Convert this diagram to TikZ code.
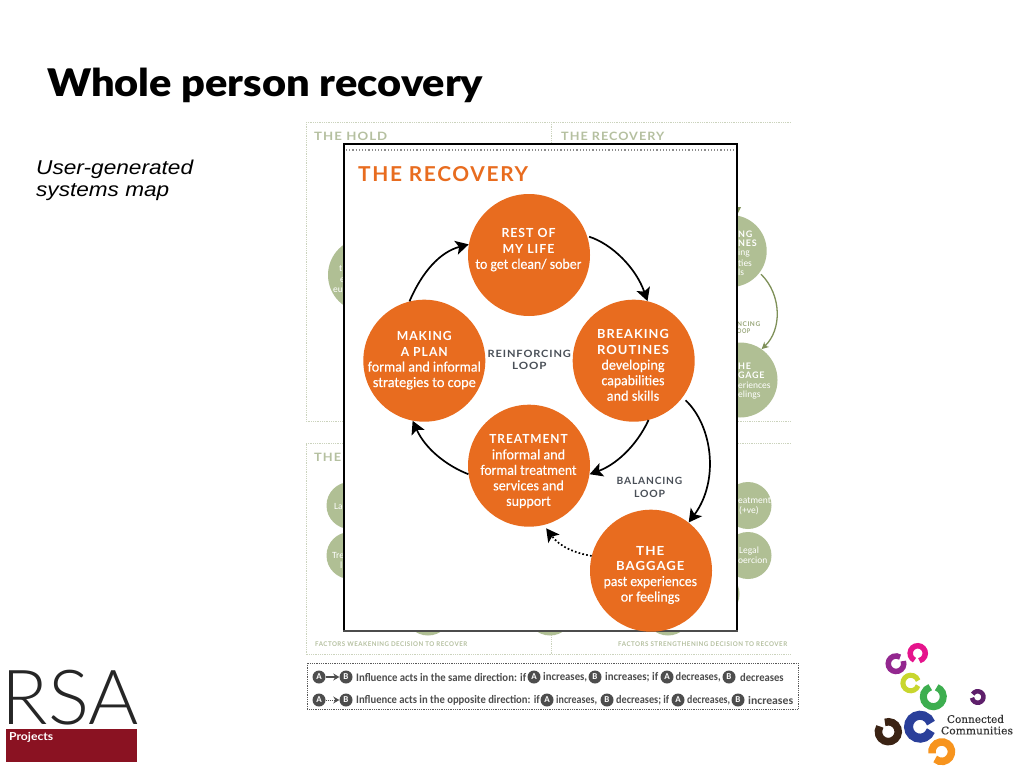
\documentclass[tikz,border=0pt]{standalone}
\usepackage{fontspec}
\usepackage{graphicx}
\usetikzlibrary{arrows.meta}
\setmainfont{Carlito}
\newfontfamily\bodyf[FakeBold=0.3]{Carlito}
\newfontfamily\capsf[LetterSpace=8]{Lato}
\newfontfamily\titlef{Lato Black}
\newfontfamily\rsaf{Lato Light}
\newfontfamily\projf{Lato}
\newfontfamily\arialf{Liberation Sans}
\newfontfamily\slabf[FakeBold=0.25]{DejaVu Serif}
\newcommand{\fitw}[2]{\resizebox{#1pt}{\height}{#2}}
\definecolor{recorange}{HTML}{E86C1F}
\definecolor{ghost}{HTML}{B0BF94}
\definecolor{ghosttext}{HTML}{B5C0A0}
\definecolor{ghostarrow}{HTML}{7E9058}
\definecolor{looptext}{HTML}{4A5058}
\definecolor{legendgray}{HTML}{4D4D4D}
\definecolor{rsared}{HTML}{8A1222}
\definecolor{ccmagenta}{HTML}{E5148C}
\definecolor{ccpurple}{HTML}{93278F}
\definecolor{ccyellow}{HTML}{C8D62E}
\definecolor{ccgreen}{HTML}{3DAE4F}
\definecolor{ccplum}{HTML}{5E1F6B}
\definecolor{ccblue}{HTML}{2A3F9A}
\definecolor{ccbrown}{HTML}{3B2314}
\definecolor{ccorange}{HTML}{F7941E}
\tikzset{
 recstage/.style={circle,fill=recorange,draw=none,minimum size=122pt,inner sep=0pt},
 ghoststage/.style={circle,fill=ghost,draw=none,inner sep=0pt},
 stagetext/.style={text=white,align=center,inner sep=0pt,font=\bodyf\fontsize{14.5}{15.5}\selectfont},
 ghosttxt/.style={text=white,inner sep=0pt,font=\fontsize{9.5}{11}\selectfont},
 looplabel/.style={text=looptext,align=center,inner sep=0pt,font=\capsf\bfseries\fontsize{10}{12.5}\selectfont},
 panelhead/.style={inner sep=0pt,anchor=west,font=\capsf\bfseries\fontsize{15}{15}\selectfont},
 factor/.style={text=ghosttext,inner sep=0pt,anchor=west,font=\capsf\bfseries\fontsize{6.5}{7}\selectfont},
 loopline/.style={line width=1.7pt,black,-{Stealth[length=13pt,width=14pt,inset=3pt]}},
 dotframe/.style={densely dotted,line width=.8pt,draw=ghosttext!70},
 legendline/.style={densely dotted,line width=.8pt,draw=black!65},
 lgtxt/.style={text=legendgray,inner sep=0pt,anchor=west,font=\bfseries\fontsize{11.5}{12}\selectfont},
 lgA/.style={circle,fill=legendgray,text=white,inner sep=0pt,minimum size=13pt,font=\bfseries\fontsize{9}{9}\selectfont},
}
\newcommand{\ringmark}[6]{% cx cy outer-radius thickness colour start
 \draw[line width=#4pt,color=#5] (#1,#2) ++(#6:{#3-#4/2}) arc (#6:{#6+322}:{#3-#4/2});}
\newcommand{\lgdisc}[3]{\node[lgA] (#1) at (#2) {#3};}
\begin{document}
\begin{tikzpicture}[x=1pt,y=-1pt]
\useasboundingbox (0,0) rectangle (1024,768);
\fill[white] (0,0) rectangle (1024,768);
% heading
\node[inner sep=0pt,anchor=base west] (title) at (47,96) {\titlef\fontsize{38}{38}\selectfont\fitw{436}{Whole person recovery}};
\node[inner sep=0pt,anchor=base west,font=\arialf\itshape\fontsize{20}{22}\selectfont] (sub) at (36,174) {\fitw{157}{User-generated}};
\node[inner sep=0pt,anchor=base west,font=\arialf\itshape\fontsize{20}{22}\selectfont] (sub2) at (36,196.7) {\fitw{133}{systems map}};
% background map frames
\draw[dotframe] (306,122) -- (791,122);
\draw[dotframe] (306,122) -- (306,421) -- (791,421);
\draw[dotframe] (551,122) -- (551,143);
\draw[dotframe] (306,443.5) -- (791,443.5);
\draw[dotframe] (306,443.5) -- (306,654.5) -- (791,654.5);
\draw[dotframe] (551,630) -- (551,654.5);
\node[panelhead,text=ghosttext,font=\capsf\bfseries\fontsize{11.5}{12}\selectfont] (hold) at (314,136.5) {\fitw{73}{THE HOLD}};
\node[panelhead,text=ghosttext,font=\capsf\bfseries\fontsize{11.5}{12}\selectfont] (bgrec) at (561,136.5) {\fitw{103}{THE RECOVERY}};
\node[panelhead,text=ghosttext,font=\capsf\bfseries\fontsize{11.5}{12}\selectfont] (bgthe) at (314,457.5) {\fitw{27}{THE}};
\node[factor] (fw) at (315,644.5) {\fitw{152}{FACTORS WEAKENING DECISION TO RECOVER}};
\node[factor] (fs) at (618,644.5) {\fitw{169}{FACTORS STRENGTHENING DECISION TO RECOVER}};
% ghost stages
\node[ghoststage,minimum size=74pt] (g1) at (365,275) {};
\node[ghosttxt,anchor=west] (g1a) at (339,269) {t};
\node[ghosttxt,anchor=west] (g1b) at (340,280) {e};
\node[ghosttxt,anchor=west] (g1c) at (333,290) {eu};
\node[ghoststage,minimum size=72pt] (g2) at (730.7,251) {};
\node[ghoststage,minimum size=75pt] (g3) at (740,380) {};
\draw[ghostarrow,line width=1.3pt,-{Stealth[length=7pt,width=7pt]},shorten <=2pt] (g2.-37) .. controls (782,295) and (782,330) .. (g3.55);
\node[ghoststage,minimum size=47pt] (g4) at (350,505.5) {};
\node[ghoststage,minimum size=47pt] (g5) at (350,555.5) {};
\node[ghoststage,minimum size=47pt] (g6) at (748,505.5) {};
\node[ghoststage,minimum size=47pt] (g7) at (748,555.5) {};
\node[ghoststage,minimum size=47pt] (g8) at (716,594) {};
\node[ghoststage,minimum size=47pt] (g9) at (428,612) {};
\node[ghoststage,minimum size=47pt] (g10) at (550,612) {};
\node[ghoststage,minimum size=47pt] (g11) at (668,612) {};
\fill[ghostarrow] (733,207) -- (741,207) -- (737,215) -- cycle;
\node[ghosttxt,anchor=west,font=\capsf\bfseries\fontsize{9}{10}\selectfont] (g2a) at (738,234) {NG};
\node[ghosttxt,anchor=west,font=\capsf\bfseries\fontsize{9}{10}\selectfont] (g2b) at (738,243) {NES};
\node[ghosttxt,anchor=west] (g2c) at (738,253) {ing};
\node[ghosttxt,anchor=west] (g2d) at (738,263) {ties};
\node[ghosttxt,anchor=west] (g2e) at (738,272) {ls};
\node[ghosttxt,anchor=west,font=\capsf\bfseries\fontsize{9}{10}\selectfont] (g3a) at (738,366) {HE};
\node[ghosttxt,anchor=west,font=\capsf\bfseries\fontsize{9}{10}\selectfont] (g3b) at (738,375) {GAGE};
\node[ghosttxt,anchor=west] (g3c) at (738,385) {eriences};
\node[ghosttxt,anchor=west] (g3d) at (738,395) {elings};
\node[factor,text=ghostarrow!80] (g3e) at (737,324) {\fitw{23}{NCING}};
\node[factor,text=ghostarrow!80] (g3f) at (737,331) {\fitw{13}{OOP}};
\node[ghosttxt,anchor=west] (g4a) at (334,506) {La};
\node[ghosttxt,anchor=west] (g5a) at (332,555) {Tre};
\node[ghosttxt,anchor=west] (g5b) at (340,565) {l};
\node[ghosttxt,anchor=west] (g6a) at (738,501) {eatment};
\node[ghosttxt,anchor=west] (g6b) at (739,511) {(+ve)};
\node[ghosttxt,anchor=west] (g7a) at (739,551) {Legal};
\node[ghosttxt,anchor=west] (g7b) at (738,560) {oercion};
% main panel
\draw[fill=white,draw=none] (344,144) rectangle (737,631);
\draw[black,line width=1.4pt] (344,631) -- (344,144) -- (737,144) -- (737,631);
\draw[black!70,line width=2pt] (343,631) -- (738,631);
\draw[dash pattern=on 1.2pt off 2pt,line width=1.2pt,black!45] (346,150) -- (736,150);
\node[panelhead,text=recorange] (head) at (358,174) {\fitw{170}{\fontsize{20.5}{21}\selectfont THE RECOVERY}};
% stages
\node[recstage] (rest) at (529,255) {};
\node[recstage] (breaking) at (633.7,360.7) {};
\node[recstage] (making) at (424.3,360.7) {};
\node[recstage] (treatment) at (529,465.7) {};
\node[recstage] (baggage) at (651,570.7) {};
\node[stagetext] (resttxt) at (528.5,250) {\fitw{54}{\capsf\bfseries\fontsize{12.5}{13}\selectfont REST OF}\\\fitw{52}{\capsf\bfseries\fontsize{12.5}{13}\selectfont MY LIFE}\\\fitw{106}{to get clean/ sober}};
\node[stagetext] (breakingtxt) at (633,365.2) {\fitw{71.6}{\capsf\bfseries\fontsize{12.5}{13}\selectfont BREAKING}\\\fitw{72}{\capsf\bfseries\fontsize{12.5}{13}\selectfont ROUTINES}\\\fitw{63}{developing}\\\fitw{63}{capabilities}\\\fitw{52.5}{and skills}};
\node[stagetext] (makingtxt) at (424.3,360.5) {\fitw{55}{\capsf\bfseries\fontsize{12.5}{13}\selectfont MAKING}\\\fitw{47}{\capsf\bfseries\fontsize{12.5}{13}\selectfont A PLAN}\\\fitw{113}{formal and informal}\\\fitw{103}{strategies to cope}};
\node[stagetext] (treatmenttxt) at (528.5,471.5) {\fitw{78.4}{\capsf\bfseries\fontsize{12.5}{13}\selectfont TREATMENT}\\\fitw{73.3}{informal and}\\\fitw{96}{formal treatment}\\\fitw{70.6}{services and}\\\fitw{44.7}{support}};
\node[stagetext] (baggagetxt) at (650.3,575) {\fitw{28.3}{\capsf\bfseries\fontsize{12.5}{13}\selectfont THE}\\\fitw{68.3}{\capsf\bfseries\fontsize{12.5}{13}\selectfont BAGGAGE}\\\fitw{93.4}{past experiences}\\\fitw{59}{or feelings}};
\node[looplabel] (reinf) at (529.3,359.8) {\fitw{83.3}{REINFORCING}\\\fitw{34.4}{LOOP}};
\node[looplabel] (bal) at (649.5,487.5) {\fitw{65.6}{BALANCING}\\\fitw{31}{LOOP}};
% connectors
\draw[loopline,shorten <=2pt] (rest.18) .. controls (612,244) and (636,268) .. (breaking.77);
\draw[loopline] (breaking.-76) .. controls (636,447) and (615,465) .. (treatment.-8);
\draw[loopline] (treatment.188) .. controls (445,465) and (425,448) .. (making.-101);
\draw[loopline] (making.104) .. controls (422,272) and (440,252) .. (rest.170);
\draw[loopline,shorten <=4pt] (breaking.-37) .. controls (712,425) and (720,480) .. (baggage.52);
\draw[line width=1.7pt,dash pattern=on 1.7pt off 2.2pt,black,-{Stealth[length=13pt,width=14pt,inset=3pt]},shorten >=4pt] (baggage.166) .. controls (575,553) and (560,547) .. (treatment.-76);
% legend
\draw[legendline] (307,663) rectangle (798,709.5);
\lgdisc{a1}{319,677}{A}\lgdisc{b1}{346,677}{B}
\draw[legendgray,line width=1.4pt,-{Stealth[length=6pt,width=7pt]}] (a1) -- (b1);
\node[lgtxt] (l1a) at (356,677) {\fitw{170}{Influence acts in the same direction: if}};
\lgdisc{a2}{534,677}{A}
\node[lgtxt] (l1b) at (543,677) {\fitw{44}{increases,}};
\lgdisc{b2}{595,677}{B}
\node[lgtxt] (l1c) at (605,677) {\fitw{53}{increases; if}};
\lgdisc{a3}{667,677}{A}
\node[lgtxt] (l1d) at (675.5,677) {\fitw{45}{decreases,}};
\lgdisc{b3}{729,677}{B}
\node[lgtxt] (l1e) at (740,677) {\fitw{43.5}{decreases}};
\lgdisc{a4}{319,700}{A}\lgdisc{b4}{346,700}{B}
\draw[legendgray,line width=1pt,densely dotted,-{Stealth[length=6pt,width=7pt]}] (a4) -- (b4);
\node[lgtxt] (l2a) at (356,700) {\fitw{183.5}{Influence acts in the opposite direction: if}};
\lgdisc{a5}{547,700}{A}
\node[lgtxt] (l2b) at (556,700) {\fitw{41}{increases,}};
\lgdisc{b5}{607,700}{B}
\node[lgtxt] (l2c) at (616,700) {\fitw{53}{decreases; if}};
\lgdisc{a6}{678,700}{A}
\node[lgtxt] (l2d) at (687,700) {\fitw{43}{decreases,}};
\lgdisc{b6}{738,700}{B}
\node[lgtxt] (l2e) at (748,700) {\fitw{45}{increases}};
% RSA logo
\node[inner sep=0pt,anchor=base west,text=black!85] (rsa) at (1.5,724) {\rsaf\fontsize{76}{76}\selectfont\fitw{137}{RSA}};
\fill[rsared] (6,728.5) rectangle (137,761.5);
\node[inner sep=0pt,anchor=base west,text=white] (proj) at (9,740) {\projf\bfseries\fontsize{11}{11}\selectfont\fitw{44}{Projects}};
% Connected Communities logo
\ringmark{917.7}{653.3}{10.3}{5.5}{ccmagenta}{115}
\ringmark{896}{663.7}{10.5}{5.5}{ccpurple}{340}
\ringmark{910.7}{683}{10.3}{5}{ccyellow}{20}
\ringmark{933.3}{696.7}{13.5}{7}{ccgreen}{290}
\ringmark{977.7}{697}{8}{4.5}{ccplum}{210}
\ringmark{920}{726.7}{16}{9}{ccblue}{20}
\ringmark{888.3}{731.7}{13.7}{7.5}{ccbrown}{250}
\ringmark{941.7}{751.7}{13.5}{7.5}{ccorange}{170}
\node[inner sep=0pt,text=black!80] (cc1) at (975.5,719) {\slabf\fontsize{10.5}{11}\selectfont\fitw{57}{Connected}};
\node[inner sep=0pt,text=black!80] (cc2) at (977,730.5) {\slabf\fontsize{10.5}{11}\selectfont\fitw{72}{Communities}};
\end{tikzpicture}
\end{document}
